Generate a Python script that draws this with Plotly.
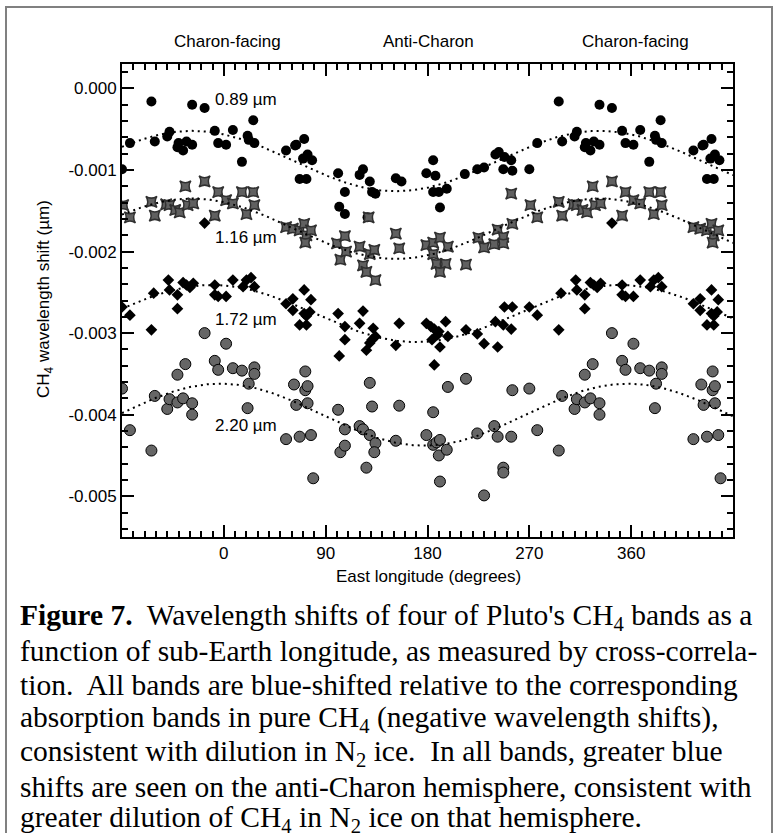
import numpy as np
import plotly.graph_objects as go

# ---------------- data (sub-Earth east longitude in deg, shift in micron) ----------------
lon_089 = [270, 277, 296, 299, 310, 312, 319, 320, 324, 327, 332, 332, 343, 352, 355,
           2, 8, 16, 21, 22, 26, 27, 55, 63, 64, 71, 67, 73, 70, 74, 78,
           101, 102, 107, 107, 120, 123, 127, 129, 131, 134, 152, 157,
           179, 185, 187, 185, 190, 191, 197, 213, 224, 230, 240, 243, 248, 254, 247, 255]
shift_089 = [-0.00099, -0.00067, -0.00016, -0.00065, -0.00059, -0.00053, -0.00072, -0.00067,
             -0.00076, -0.00065, -0.00069, -0.00020, -0.00024, -0.00052, -0.00067,
             -0.00069, -0.00051, -0.00090, -0.00058, -0.00063, -0.00039, -0.00067,
             -0.00076, -0.00070, -0.00069, -0.00062, -0.00111, -0.00111, -0.00086, -0.00081, -0.00088,
             -0.00104, -0.00145, -0.00127, -0.00154, -0.00106, -0.00099, -0.00158, -0.00114,
             -0.00127, -0.00129, -0.00110, -0.00114,
             -0.00104, -0.00088, -0.00107, -0.00127, -0.00127, -0.00146, -0.00123, -0.00105,
             -0.00099, -0.00097, -0.00081, -0.00078, -0.00084, -0.00088, -0.00099, -0.00101]

lon_116 = [271, 277, 296, 299, 309, 312, 317, 321, 326, 328, 333, 343, 352, 355,
           2, 8, 16, 20, 26, 27, 55, 61, 67, 71, 73, 77, 72,
           100, 107, 103, 108, 120, 123, 126, 129, 133, 134, 128, 152, 155,
           179, 185, 191, 198, 185, 188, 196, 191, 214, 225, 230, 239, 242, 247, 247, 254, 255]
shift_116 = [-0.00143, -0.00158, -0.00139, -0.00156, -0.00142, -0.00143, -0.00149, -0.00152,
             -0.00120, -0.00143, -0.00141, -0.00114, -0.00156, -0.00127,
             -0.00137, -0.00141, -0.00127, -0.00154, -0.00127, -0.00143,
             -0.00170, -0.00172, -0.00174, -0.00166, -0.00180, -0.00174, -0.00189,
             -0.00190, -0.00181, -0.00210, -0.00200, -0.00194, -0.00217, -0.00225, -0.00203,
             -0.00198, -0.00235, -0.00158, -0.00178, -0.00196,
             -0.00192, -0.00189, -0.00183, -0.00194, -0.00203, -0.00215, -0.00215, -0.00225,
             -0.00216, -0.00183, -0.00195, -0.00191, -0.00173, -0.00182, -0.00190, -0.00129, -0.00166]

lon_172 = [270, 277, 296, 298, 311, 312, 319, 319, 324, 327, 330, 333, 343, 352, 352, 355,
           2, 8, 17, 20, 24, 27, 55, 61, 61, 67, 71, 71, 73, 73, 76, 77,
           101, 107, 107, 102, 120, 123, 126, 129, 131, 134, 132, 152, 155,
           179, 183, 186, 190, 189, 184, 196, 198, 191, 186, 214, 224, 230, 242, 240, 247, 248, 255, 254]
shift_172 = [-0.00268, -0.00278, -0.00296, -0.00251, -0.00235, -0.00247, -0.00253, -0.00270,
             -0.00238, -0.00241, -0.00244, -0.00239, -0.00165, -0.00241, -0.00253, -0.00255,
             -0.00255, -0.00235, -0.00243, -0.00235, -0.00232, -0.00243,
             -0.00264, -0.00258, -0.00272, -0.00290, -0.00247, -0.00276, -0.00290, -0.00279,
             -0.00274, -0.00259,
             -0.00276, -0.00292, -0.00308, -0.00328, -0.00288, -0.00273, -0.00321, -0.00312,
             -0.00308, -0.00304, -0.00294, -0.00315, -0.00288,
             -0.00288, -0.00292, -0.00295, -0.00298, -0.00302, -0.00308, -0.00286, -0.00304,
             -0.00317, -0.00339, -0.00296, -0.00301, -0.00313, -0.00317, -0.00286, -0.00290,
             -0.00268, -0.00268, -0.00295]

lon_220 = [270, 277, 296, 299, 310, 312, 319, 319, 324, 326, 332, 332, 343, 352, 355,
           2, 8, 16, 22, 21, 27, 27, 55, 62, 64, 67, 72, 72, 74, 74, 77, 79,
           101, 107, 103, 107, 120, 123, 126, 129, 131, 129, 134, 133, 152, 155,
           179, 185, 185, 188, 191, 190, 197, 191, 198, 214, 224, 230, 239, 242, 247, 247, 254, 255]
shift_220 = [-0.00368, -0.00419, -0.00444, -0.00377, -0.00393, -0.00381, -0.00385, -0.00351,
             -0.00380, -0.00338, -0.00386, -0.00400, -0.00300, -0.00334, -0.00345,
             -0.00313, -0.00343, -0.00346, -0.00362, -0.00392, -0.00342, -0.00350,
             -0.00430, -0.00363, -0.00388, -0.00427, -0.00347, -0.00370, -0.00365, -0.00386,
             -0.00425, -0.00478,
             -0.00394, -0.00418, -0.00446, -0.00438, -0.00414, -0.00418, -0.00465, -0.00361,
             -0.00390, -0.00425, -0.00435, -0.00446, -0.00432, -0.00389,
             -0.00425, -0.00397, -0.00437, -0.00434, -0.00431, -0.00450, -0.00443, -0.00482,
             -0.00366, -0.00356, -0.00423, -0.00499, -0.00414, -0.00427, -0.00465, -0.00471,
             -0.00427, -0.00370]

# sinusoidal fit: (mean, amplitude, longitude of maximum)
fit_089 = (-0.00089, 0.00037, -28)
fit_116 = (-0.00172, 0.00037, -28)
fit_172 = (-0.00276, 0.00035, -10)
fit_220 = (-0.00400, 0.00038, -3)

band_labels = ["0.89 \u00b5m", "1.16 \u00b5m", "1.72 \u00b5m", "2.20 \u00b5m"]
label_lon = 20
label_y = [-0.000138, -0.00183, -0.00283, -0.00413]

x_tickvals = [0, 90, 180, 270, 360]
x_ticktext = ["0", "90", "180", "270", "360"]
y_tickvals = [0.0, -0.001, -0.002, -0.003, -0.004, -0.005]
y_ticktext = ["0.000", "-0.001", "-0.002", "-0.003", "-0.004", "-0.005"]

hemisphere_labels = ["Charon-facing", "Anti-Charon", "Charon-facing"]
hemisphere_lon = [3, 181, 364]

caption_lines = [
    "<b>Figure 7.</b>\u00a0 Wavelength shifts of four of Pluto's CH<sub>4</sub> bands as a",
    "function of sub-Earth longitude, as measured by cross-correla-",
    "tion.\u00a0 All bands are blue-shifted relative to the corresponding",
    "absorption bands in pure CH<sub>4</sub> (negative wavelength shifts),",
    "consistent with dilution in N<sub>2</sub> ice.\u00a0 In all bands, greater blue",
    "shifts are seen on the anti-Charon hemisphere, consistent with",
    "greater dilution of CH<sub>4</sub> in N<sub>2</sub> ice on that hemisphere.",
]

# ---------------- layout geometry ----------------
W, H = 774, 833
L, R, T, B = 122, 41, 64, 296
PW, PH = W - L - R, H - T - B
XMIN, XMAX = -90, 450


def px2paper_x(px):
    return (px - L) / PW


def px2paper_y(py):
    return (H - B - py) / PH


def wrap(lon, val):
    xs, ys = [], []
    for lo, v in zip(lon, val):
        for k in (-360, 0, 360):
            xx = lo + k
            if XMIN <= xx <= XMAX:
                xs.append(xx)
                ys.append(v)
    return xs, ys


fig = go.Figure()

xc = np.arange(XMIN, XMAX + 1, 1.0)
series = [
    (lon_089, shift_089, fit_089, dict(symbol="circle", size=10, color="black")),
    (lon_116, shift_116, fit_116, dict(symbol="star-square", size=10, color="#606060",
                                       line=dict(color="#303030", width=1.5))),
    (lon_172, shift_172, fit_172, dict(symbol="diamond", size=9, color="black")),
    (lon_220, shift_220, fit_220, dict(symbol="circle", size=11, color="#666666",
                                       line=dict(color="black", width=1))),
]
for lon, val, fit, mk in series:
    xs, ys = wrap(lon, val)
    fig.add_trace(go.Scatter(x=xs, y=ys, mode="markers", marker=mk, showlegend=False,
                             hoverinfo="skip"))
    m, a, p = fit
    fig.add_trace(go.Scatter(x=xc, y=m + a * np.cos(np.radians(xc - p)), mode="lines",
                             line=dict(color="black", width=2, dash="2px,4px"),
                             showlegend=False, hoverinfo="skip"))

font_sans = "Liberation Sans, Arial, sans-serif"
ann = []
for t, yv in zip(band_labels, label_y):
    ann.append(dict(x=label_lon, y=yv, xref="x", yref="y", text=t, showarrow=False,
                    xanchor="center", yanchor="middle",
                    font=dict(size=17, color="black", family=font_sans)))
for t, xv in zip(hemisphere_labels, hemisphere_lon):
    ann.append(dict(x=xv, y=px2paper_y(42), xref="x", yref="paper", text=t, showarrow=False,
                    xanchor="center", yanchor="middle",
                    font=dict(size=17, color="black", family=font_sans)))
ann.append(dict(x=px2paper_x(45), y=px2paper_y(299), xref="paper", yref="paper",
                text="CH<sub>4</sub> wavelength shift (\u00b5m)", textangle=-90, showarrow=False,
                xanchor="center", yanchor="middle",
                font=dict(size=17, color="black", family=font_sans)))
ann.append(dict(x=px2paper_x(428), y=px2paper_y(576), xref="paper", yref="paper",
                text="East longitude (degrees)", showarrow=False,
                xanchor="center", yanchor="middle",
                font=dict(size=17, color="black", family=font_sans)))
cap_y = [617, 651, 685, 719, 753, 787, 819]
for t, py in zip(caption_lines, cap_y):
    ann.append(dict(x=px2paper_x(18), y=px2paper_y(py), xref="paper", yref="paper",
                    xanchor="left", yanchor="middle", text=t, showarrow=False,
                    font=dict(size=29.5, color="black",
                              family="Liberation Serif, Times New Roman, serif")))

fig.update_layout(
    width=W, height=H, margin=dict(l=L, r=R, t=T, b=B, autoexpand=False),
    paper_bgcolor="white", plot_bgcolor="white",
    annotations=ann,
    shapes=[dict(type="rect", xref="paper", yref="paper",
                 x0=px2paper_x(6), x1=px2paper_x(772), y0=px2paper_y(860), y1=px2paper_y(7),
                 line=dict(color="#808080", width=2), fillcolor="rgba(0,0,0,0)", layer="below")],
    xaxis=dict(range=[XMIN, XMAX], tickmode="array", tickvals=x_tickvals, ticktext=x_ticktext,
               ticks="inside", ticklen=12, tickwidth=2, tickcolor="black",
               showline=True, linewidth=2, linecolor="black", mirror="allticks",
               showgrid=False, zeroline=False,
               tickfont=dict(size=17, color="black", family=font_sans),
               minor=dict(tick0=0, dtick=10, ticks="inside", ticklen=6, tickwidth=2,
                          tickcolor="black", showgrid=False)),
    yaxis=dict(range=[-0.0055, 0.0003], tickmode="array", tickvals=y_tickvals, ticktext=y_ticktext,
               ticks="inside", ticklen=12, tickwidth=2, tickcolor="black",
               showline=True, linewidth=2, linecolor="black", mirror="allticks",
               showgrid=False, zeroline=False,
               tickfont=dict(size=17, color="black", family=font_sans),
               minor=dict(tick0=0, dtick=0.0002, ticks="inside", ticklen=6, tickwidth=2,
                          tickcolor="black", showgrid=False)),
)

fig.write_html("out.html", config={"displayModeBar": False},
               post_script="document.body.style.margin='0px';")
